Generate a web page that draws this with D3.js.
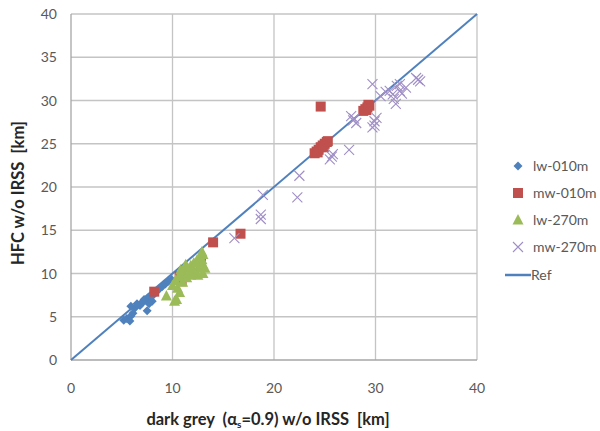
<!DOCTYPE html>
<html><head><meta charset="utf-8">
<script src="https://cdn.jsdelivr.net/npm/d3@7"></script>
<style>body{margin:0;background:#fff;} text{font-family:Lato,"Open Sans",sans-serif;}</style>
</head><body>
<svg id="c" width="600" height="431"></svg>
<script>
const xTicks = [0,10,20,30,40];
const yTicks = [0,5,10,15,20,25,30,35,40];
const seriesNames = ["lw-010m","mw-010m","lw-270m","mw-270m","Ref"];
const lw010m = [[5.2,4.6],[5.5,4.8],[5.8,4.5],[5.9,5.1],[6.1,5.4],[5.9,6.2],[6.3,6.0],[6.8,6.3],[7.0,6.6],[7.3,6.9],[7.5,5.7],[7.7,6.5],[7.6,7.2],[8.0,6.8],[8.1,7.5],[8.4,7.9],[8.7,8.2],[9.0,8.5],[9.3,8.8],[9.6,9.1],[9.9,9.3],[6.5,6.5],[7.2,7.0]];
const mw010m = [[8.2,7.9],[10.7,9.7],[10.9,9.1],[11.8,10.0],[12.8,11.1],[14.0,13.6],[16.7,14.6],[24.0,23.9],[24.2,24.1],[24.4,24.3],[24.6,24.6],[24.8,24.8],[25.0,25.0],[25.2,25.2],[25.3,25.3],[24.3,24.0],[24.9,24.6],[24.6,29.3],[28.8,28.8],[29.0,29.0],[29.2,29.2],[29.4,29.4],[29.1,28.9],[29.3,29.5]];
const lw270m = [[9.4,7.4],[10.2,6.8],[10.4,7.0],[10.7,7.8],[10.0,8.6],[10.3,9.2],[10.6,9.6],[10.9,10.0],[11.2,10.3],[11.5,10.6],[11.8,10.9],[12.1,11.2],[12.4,11.5],[12.7,11.8],[13.0,12.2],[12.9,12.5],[11.0,9.0],[11.4,9.5],[11.8,9.8],[12.2,10.2],[12.6,10.6],[13.0,11.0],[12.9,11.6],[11.6,10.1],[10.8,10.4],[11.3,11.0],[12.0,10.5],[10.5,8.3],[13.0,10.0],[13.2,10.6],[12.5,9.8]];
const mw270m = [[16.1,14.1],[18.7,16.3],[18.7,16.8],[18.9,19.1],[22.3,18.8],[22.5,21.3],[25.5,23.2],[25.8,23.8],[25.7,23.5],[27.4,24.3],[27.6,28.2],[27.9,27.9],[28.1,27.4],[27.8,27.7],[29.7,26.9],[29.9,27.6],[30.1,28.0],[29.9,27.1],[29.7,31.9],[30.5,30.5],[31.0,31.0],[31.4,31.1],[31.7,30.7],[32.1,31.7],[32.4,31.1],[32.0,29.6],[31.8,30.2],[32.4,31.9],[34.2,32.4],[34.0,32.6],[34.4,32.2],[33.0,31.5],[32.6,30.8]];
const refLine = [[0,0],[40,40]];

const svg = d3.select("#c");
const x = d3.scaleLinear().domain([0,40]).range([71,477]);
const y = d3.scaleLinear().domain([0,40]).range([360,14]);
const blue="#4f81bd", red="#c0504d", green="#9bbb59", purple="#a08fc6";

// gridlines
svg.append("g").selectAll("line").data(yTicks.filter(d=>d>0)).join("line")
  .attr("x1",x(0)).attr("x2",x(40)).attr("y1",d=>y(d)).attr("y2",d=>y(d))
  .attr("stroke","#c4c4c4").attr("stroke-width",1.3);
svg.append("g").selectAll("line").data(xTicks.filter(d=>d>0)).join("line")
  .attr("y1",y(0)).attr("y2",y(40)).attr("x1",d=>x(d)).attr("x2",d=>x(d))
  .attr("stroke","#c4c4c4").attr("stroke-width",1.3);
// axes lines
svg.append("line").attr("x1",x(0)).attr("x2",x(0)).attr("y1",y(0)).attr("y2",y(40)).attr("stroke","#a6a6a6").attr("stroke-width",1.3);
svg.append("line").attr("x1",x(0)).attr("x2",x(40)).attr("y1",y(0)).attr("y2",y(0)).attr("stroke","#a6a6a6").attr("stroke-width",1.3);

// tick labels
svg.append("g").selectAll("text").data(yTicks).join("text")
  .attr("x",57).attr("y",d=>y(d)+5).attr("text-anchor","end")
  .attr("font-size",14).attr("fill","#595959").text(d=>d);
svg.append("g").selectAll("text").data(xTicks).join("text")
  .attr("x",d=>x(d)).attr("y",393).attr("text-anchor","middle")
  .attr("font-size",14).attr("fill","#595959").text(d=>d);

// axis titles
svg.append("text").attr("transform",`translate(24,193) rotate(-90)`)
  .attr("text-anchor","middle").attr("font-size",16.5).attr("font-weight","bold").attr("fill","#262626")
  .style("white-space","pre").text("HFC w/o IRSS  [km]");
const xt = svg.append("text").attr("x",268).attr("y",425).attr("text-anchor","middle")
  .attr("font-size",16.5).attr("font-weight","bold").attr("fill","#262626").style("white-space","pre");
xt.append("tspan").text("dark grey  (α");
xt.append("tspan").attr("font-size",10).attr("dy",3).text("s");
xt.append("tspan").attr("dy",-3).text("=0.9) w/o IRSS  [km]");

// Ref line
const line = d3.line().x(d=>x(d[0])).y(d=>y(d[1]));
svg.append("path").datum(refLine).attr("d",line).attr("stroke",blue).attr("stroke-width",2).attr("fill","none");

// symbols
const diamond = (g,cx,cy)=>g.append("path").attr("d",`M${cx},${cy-4.5}L${cx+4.5},${cy}L${cx},${cy+4.5}L${cx-4.5},${cy}Z`).attr("fill",blue);
const square = (g,cx,cy)=>g.append("rect").attr("x",cx-5).attr("y",cy-5).attr("width",10).attr("height",10).attr("fill",red);
const tri = (g,cx,cy)=>g.append("path").attr("d",`M${cx},${cy-6}L${cx+5.5},${cy+4.5}L${cx-5.5},${cy+4.5}Z`).attr("fill",green);
const cross = (g,cx,cy)=>g.append("path").attr("d",`M${cx-5},${cy-5}L${cx+5},${cy+5}M${cx-5},${cy+5}L${cx+5},${cy-5}`).attr("stroke",purple).attr("stroke-width",1.1).attr("fill","none");

const gB = svg.append("g"); lw010m.forEach(d=>diamond(gB,x(d[0]),y(d[1])));
const gR = svg.append("g"); mw010m.forEach(d=>square(gR,x(d[0]),y(d[1])));
const gG = svg.append("g"); lw270m.forEach(d=>tri(gG,x(d[0]),y(d[1])));
const gP = svg.append("g"); mw270m.forEach(d=>cross(gP,x(d[0]),y(d[1])));

// legend
const lg = svg.append("g");
const ly = [166,193,220,247,275];
const drawers=[diamond,square,tri,cross];
seriesNames.forEach((n,i)=>{
  if(i<4) drawers[i](lg,518,ly[i]);
  else lg.append("line").attr("x1",505).attr("x2",531).attr("y1",ly[i]).attr("y2",ly[i]).attr("stroke",blue).attr("stroke-width",2.5);
  lg.append("text").attr("x",i<4?533:531).attr("y",ly[i]+5).attr("font-size",14).attr("fill","#595959").text(n);
});
</script>
</body></html>
